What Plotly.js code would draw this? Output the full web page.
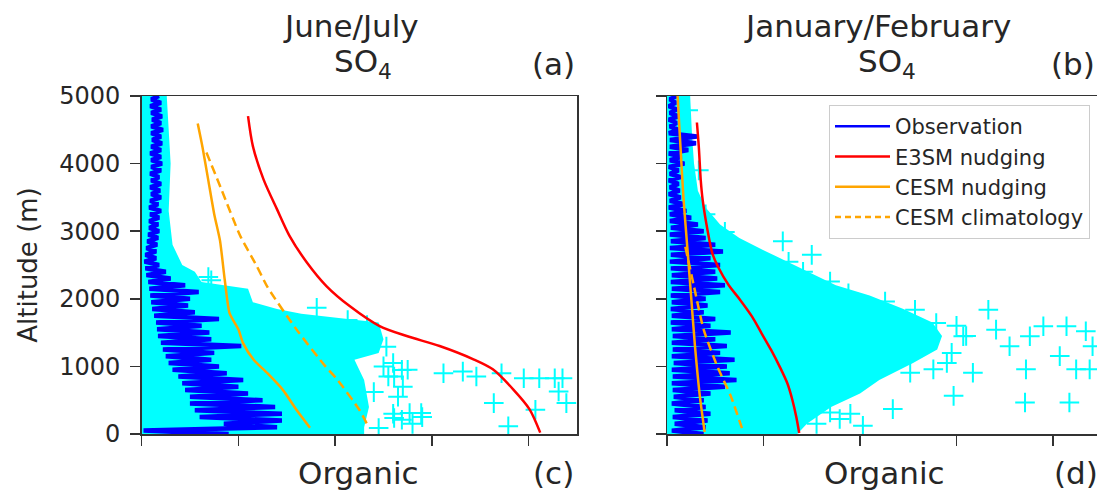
<!DOCTYPE html>
<html>
<head>
<meta charset="utf-8">
<script src="https://cdn.plot.ly/plotly-3.0.1.min.js"></script>
<style>html,body{margin:0;padding:0;background:#fff;}#chart{width:1097px;height:491px;}</style>
</head>
<body>
<div id="chart"></div>
<script>
// ---------- DATA ----------
const altitude = [0,50,100,150,200,250,300,350,400,450,500,550,600,650,700,750,800,850,900,950,
1000,1050,1100,1150,1200,1250,1300,1350,1400,1450,1500,1550,1600,1650,1700,1750,1800,1850,1900,1950,
2000,2050,2100,2150,2200,2250,2300,2350,2400,2450,2500,2550,2600,2650,2700,2750,2800,2850,2900,2950,
3000,3050,3100,3150,3200,3250,3300,3350,3400,3450,3500,3550,3600,3650,3700,3750,3800,3850,3900,3950,
4000,4050,4100,4150,4200,4250,4300,4350,4400,4450,4500,4550,4600,4650,4700,4750,4800,4850,4900,4950,5000];

// Panel (a) June/July SO4
const obsA = [0.90,0.02,1.40,0.85,1.45,0.60,1.45,0.55,1.38,0.50,1.25,0.50,1.10,0.45,1.00,0.42,1.05,0.38,0.88,0.32,
0.80,0.28,0.72,0.25,0.75,0.22,1.03,0.20,0.72,0.17,0.70,0.16,0.62,0.15,0.80,0.13,0.55,0.11,0.48,0.10,
0.50,0.09,0.59,0.08,0.45,0.07,0.30,0.05,0.25,0.04,0.18,0.03,0.15,0.04,0.15,0.05,0.16,0.06,0.17,0.07,
0.18,0.08,0.17,0.08,0.18,0.09,0.20,0.08,0.17,0.09,0.20,0.10,0.19,0.09,0.20,0.10,0.18,0.09,0.20,0.10,
0.21,0.10,0.20,0.09,0.20,0.10,0.21,0.11,0.20,0.10,0.22,0.10,0.20,0.11,0.21,0.10,0.20,0.09,0.20,0.10,0.18];
const obsSpreadAx = [0,0.26,0.30,0.28,0.32,0.42,0.55,0.62,1.10,1.15,1.40,1.65,2.45,2.50,2.45,2.20,2.30,2.35,2.30,2.30,0];
const obsSpreadAy = [5000,5000,4000,3300,2800,2500,2400,2250,2150,1950,1850,1780,1650,1400,1200,1100,800,400,100,0,0];
const obsPointsAx = [0.69,0.72,1.81,2.13,2.33,2.53,2.69,2.61,3.12,3.32,3.46,3.72,3.95,4.11,4.27,4.35,4.31,3.64,4.07,4.39,2.77,2.89,2.69,3.79,2.45,2.61,
  2.60,2.75,2.55,2.70,2.90,2.60,2.80,2.50,2.65,2.40];
const obsPointsAy = [2323,2274,1866,1685,1611,1292,948,850,899,923,850,899,825,825,825,825,629,457,359,457,309,309,211,113,88,236,
  1050,950,850,700,250,300,150,1000,550,620];
const e3smAx = [1.10,1.15,1.26,1.40,1.53,1.71,1.91,2.15,2.46,2.74,3.08,3.43,3.63,3.84,4.01,4.12];
const e3smAy = [4703,4259,3767,3323,2928,2534,2189,1893,1597,1449,1302,1105,957,661,365,20];
const cesmAx = [0.58,0.63,0.69,0.75,0.81,0.86,0.91,1.00,1.05,1.16,1.30,1.46,1.60,1.74];
const cesmAy = [4593,4239,3748,3256,2864,2274,1783,1548,1341,1095,899,653,359,94];
const climAx = [0.67,0.83,1.02,1.19,1.30,1.60,1.90,2.02,2.25,2.34];
const climAy = [4165,3600,2928,2485,2176,1548,1000,809,359,118];

// Panel (b) January/February SO4
const obsB = [0.38,0.05,0.40,0.08,0.42,0.06,0.45,0.08,0.40,0.05,0.38,0.07,0.45,0.06,0.60,0.05,0.72,0.06,0.65,0.05,
0.62,0.07,0.70,0.05,0.55,0.06,0.62,0.05,0.50,0.06,0.66,0.05,0.45,0.04,0.50,0.05,0.38,0.04,0.42,0.05,
0.40,0.04,0.55,0.05,0.60,0.04,0.52,0.05,0.50,0.04,0.55,0.03,0.45,0.04,0.58,0.03,0.50,0.04,0.40,0.03,
0.38,0.04,0.32,0.03,0.25,0.03,0.20,0.02,0.18,0.03,0.14,0.02,0.13,0.03,0.12,0.02,0.14,0.03,0.12,0.02,
0.18,0.03,0.15,0.02,0.22,0.03,0.30,0.03,0.31,0.02,0.12,0.03,0.10,0.02,0.12,0.03,0.10,0.02,0.09,0.03,0.10];
const obsSpreadBx = [0,0.24,0.26,0.28,0.32,0.40,0.55,0.75,1.00,1.36,1.75,2.10,2.45,2.75,2.85,2.80,2.55,2.20,2.00,1.70,1.45,1.35,0];
const obsSpreadBy = [5000,5000,4400,4000,3600,3350,3100,2900,2720,2470,2200,2050,1850,1650,1450,1250,1050,800,600,400,150,0,0];
const obsPointsBx = [0.22,0.60,1.26,1.41,1.69,1.88,2.26,2.57,2.79,3.07,3.33,3.41,3.55,3.76,3.90,4.14,4.34,4.07,4.24,3.72,3.17,2.97,3.71,4.17,2.34,1.69,1.79,2.03,2.76,2.52,4.38,4.41,3.00,3.10,2.95,2.90,1.55,1.90,0.40,0.33,1.20,1.50];
const obsPointsBy = [4790,2990,2548,2401,2255,2083,1960,1838,1642,1446,1838,1544,1299,1446,1593,1593,1520,1152,956,956,907,564,466,466,368,319,221,123,956,907,956,1299,1600,1450,1200,1050,150,300,3250,3900,2850,2650];
const e3smBx = [0.31,0.33,0.35,0.37,0.42,0.47,0.53,0.64,0.76,0.88,0.98,1.08,1.17,1.25,1.30,1.34,1.37];
const e3smBy = [4608,4240,3750,3460,3015,2672,2470,2200,1980,1740,1490,1240,990,740,500,250,15];
const cesmBx = [0.11,0.14,0.17,0.21,0.25,0.29,0.34,0.39];
const cesmBy = [5000,4240,3505,2770,2034,1299,564,30];
const climBx = [0.19,0.28,0.38,0.52,0.66,0.79];
const climBy = [2770,2181,1544,1005,564,30];

const seriesNames = ['Observation','E3SM nudging','CESM nudging','CESM climatology'];
const panelTitlesTop = ['June/July','January/February'];
const panelVar = 'SO<sub>4</sub>';
const panelLetters = ['(a)','(b)','(c)','(d)'];
const nextRowTitle = 'Organic';
const yTicks = [0,1000,2000,3000,4000,5000];
const xTicks = [0,1,2,3,4];

// ---------- STYLE ----------
const FONT = 'DejaVu Sans, Verdana, sans-serif';
const TXT = '#262626';
const CYAN = '#00ffff', BLUE = '#0000ff', RED = '#ff0000', ORANGE = '#ffa500';

function panelTraces(xa, ya, obs, sx, sy, px, py, ex, ey, cx, cy, dx, dy) {
  return [
    {x: sx, y: sy, xaxis: xa, yaxis: ya, type: 'scatter', mode: 'lines', fill: 'toself',
     fillcolor: CYAN, line: {width: 0, color: CYAN}, showlegend: false, hoverinfo: 'skip'},
    {x: px, y: py, xaxis: xa, yaxis: ya, type: 'scatter', mode: 'markers', showlegend: false,
     marker: {symbol: 'cross-thin-open', size: 14, color: CYAN, line: {width: 2, color: CYAN}}},
    {x: obs, y: altitude, xaxis: xa, yaxis: ya, type: 'scatter', mode: 'lines', name: seriesNames[0],
     showlegend: false, line: {color: BLUE, width: 4.5}},
    {x: ex, y: ey, xaxis: xa, yaxis: ya, type: 'scatter', mode: 'lines', name: seriesNames[1],
     showlegend: false, line: {color: RED, width: 2.5, shape: 'spline', smoothing: 0.8}},
    {x: cx, y: cy, xaxis: xa, yaxis: ya, type: 'scatter', mode: 'lines', name: seriesNames[2],
     showlegend: false, line: {color: ORANGE, width: 2.5, shape: 'spline', smoothing: 0.6}},
    {x: dx, y: dy, xaxis: xa, yaxis: ya, type: 'scatter', mode: 'lines', name: seriesNames[3],
     showlegend: false, line: {color: ORANGE, width: 2.5, dash: '9px,5px', shape: 'spline', smoothing: 0.6}}
  ];
}

// legend keys (no data, drawn only in the legend box)
const legendStyles = [
  {color: BLUE, width: 2.5}, {color: RED, width: 2.5},
  {color: ORANGE, width: 2.5}, {color: ORANGE, width: 2.5, dash: '6px,4px'}
];
const legendKeys = seriesNames.map((n, i) => ({
  x: [null], y: [null], xaxis: 'x2', yaxis: 'y2', type: 'scatter', mode: 'lines',
  name: n, showlegend: true, line: legendStyles[i]
}));

const data = [].concat(
  panelTraces('x','y', obsA, obsSpreadAx, obsSpreadAy, obsPointsAx, obsPointsAy, e3smAx, e3smAy, cesmAx, cesmAy, climAx, climAy),
  panelTraces('x2','y2', obsB, obsSpreadBx, obsSpreadBy, obsPointsBx, obsPointsBy, e3smBx, e3smBy, cesmBx, cesmBy, climBx, climBy),
  legendKeys
);

const W = 1097, H = 491, T = 96, B = 57;
const pxX = v => v / W;
const pxY = v => (H - B - v) / (H - T - B);

const axisCommon = {
  showline: true, linecolor: '#333', linewidth: 1.5, ticks: 'outside', ticklen: 10,
  tickwidth: 1.5, tickcolor: '#333', showgrid: false, zeroline: false, fixedrange: true
};

const TF = 31;
const layout = {
  width: W, height: H,
  margin: {l: 0, r: 0, t: T, b: B, pad: 0},
  paper_bgcolor: '#fff', plot_bgcolor: '#fff',
  font: {family: FONT, color: TXT},
  showlegend: true,
  legend: {x: pxX(1090), y: pxY(105), xanchor: 'right', yanchor: 'top', itemwidth: 55,
           bgcolor: 'rgba(255,255,255,0.85)', bordercolor: '#cccccc', borderwidth: 1,
           font: {size: 21, family: FONT, color: TXT}},
  xaxis: Object.assign({}, axisCommon, {domain: [pxX(141.6), pxX(577)], range: [0, 4.5],
           tickvals: xTicks, showticklabels: false, mirror: true}),
  yaxis: Object.assign({}, axisCommon, {domain: [0, 1], range: [0, 5000], tickvals: yTicks,
           mirror: true, ticklabelstandoff: 5,
           tickfont: {size: 24, family: FONT, color: TXT},
           title: {text: 'Altitude (m)', font: {size: 26, family: FONT, color: TXT}, standoff: 14}}),
  xaxis2: Object.assign({}, axisCommon, {domain: [pxX(667), 1], range: [0, 4.456],
           tickvals: xTicks, showticklabels: false, mirror: true, anchor: 'y2'}),
  yaxis2: Object.assign({}, axisCommon, {domain: [0, 1], range: [0, 5000], tickvals: yTicks,
           showticklabels: false, anchor: 'x2'}),
  annotations: [
    {text: panelTitlesTop[0], x: pxX(351), y: pxY(26), xref: 'paper', yref: 'paper', showarrow: false, xanchor: 'center', yanchor: 'middle', font: {size: TF}},
    {text: panelVar, x: pxX(363), y: pxY(64), xref: 'paper', yref: 'paper', showarrow: false, xanchor: 'center', yanchor: 'middle', font: {size: TF}},
    {text: panelLetters[0], x: pxX(577), y: pxY(64), xref: 'paper', yref: 'paper', showarrow: false, xanchor: 'right', yanchor: 'middle', font: {size: TF}},
    {text: panelTitlesTop[1], x: pxX(877), y: pxY(26), xref: 'paper', yref: 'paper', showarrow: false, xanchor: 'center', yanchor: 'middle', font: {size: TF}},
    {text: panelVar, x: pxX(887), y: pxY(64), xref: 'paper', yref: 'paper', showarrow: false, xanchor: 'center', yanchor: 'middle', font: {size: TF}},
    {text: panelLetters[1], x: pxX(1097), y: pxY(64), xref: 'paper', yref: 'paper', showarrow: false, xanchor: 'right', yanchor: 'middle', font: {size: TF}},
    {text: nextRowTitle, x: pxX(358), y: pxY(473), xref: 'paper', yref: 'paper', showarrow: false, xanchor: 'center', yanchor: 'middle', font: {size: TF}},
    {text: panelLetters[2], x: pxX(576), y: pxY(473), xref: 'paper', yref: 'paper', showarrow: false, xanchor: 'right', yanchor: 'middle', font: {size: TF}},
    {text: nextRowTitle, x: pxX(884), y: pxY(473), xref: 'paper', yref: 'paper', showarrow: false, xanchor: 'center', yanchor: 'middle', font: {size: TF}},
    {text: panelLetters[3], x: pxX(1100), y: pxY(473), xref: 'paper', yref: 'paper', showarrow: false, xanchor: 'right', yanchor: 'middle', font: {size: TF}}
  ]
};

Plotly.newPlot('chart', data, layout, {displayModeBar: false, staticPlot: true});
</script>
</body>
</html>
